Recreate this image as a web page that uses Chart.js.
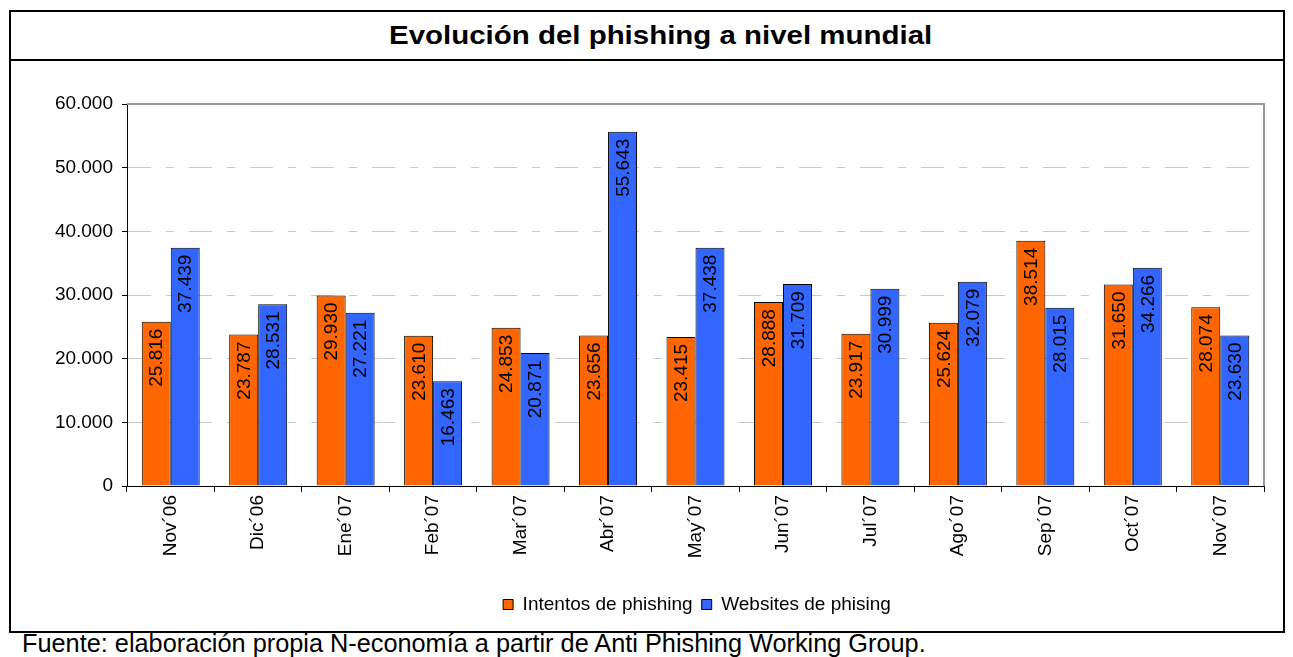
<!DOCTYPE html>
<html>
<head>
<meta charset="utf-8">
<script src="https://cdn.jsdelivr.net/npm/chart.js@4"></script>
<style>
  body { margin: 0; background: #fff; font-family: "Liberation Sans", Arial, sans-serif; }
  #frame { position: absolute; left: 9px; top: 10px; width: 1272px; height: 619px; border: 2px solid #000; }
  #titleBar { position: absolute; left: 9px; top: 10px; width: 1276px; height: 49px; border-bottom: 2px solid #000; }
  #title { position: absolute; left: 389px; top: 23px; font-weight: bold; font-size: 25px; line-height: 25px;
           white-space: nowrap; transform-origin: left top; transform: scaleX(1.178); }
  #footer { position: absolute; left: 22px; top: 631px; font-size: 25.3px; line-height: 25px; white-space: nowrap; }
  #wrap { position: absolute; left: 0; top: 0; width: 1293px; height: 657px; }
</style>
</head>
<body>
<div id="frame"></div>
<div id="titleBar"></div>
<div id="title">Evolución del phishing a nivel mundial</div>
<div id="footer">Fuente: elaboración propia N-economía a partir de Anti Phishing Working Group.</div>
<div id="wrap"><canvas id="myChart"></canvas></div>
<script>
// Data
const months = ["Nov´06", "Dic´06", "Ene´07", "Feb´07", "Mar´07", "Abr´07", "May´07",
  "Jun´07", "Jul´07", "Ago´07", "Sep´07", "Oct´07", "Nov´07"];
const intentos = [25816, 23787, 29930, 23610, 24853, 23656, 23415, 28888, 23917, 25624, 38514, 31650, 28074];
const websites = [37439, 28531, 27221, 16463, 20871, 55643, 37438, 31709, 30999, 32079, 28015, 34266, 23630];
const yTicks = [0, 10000, 20000, 30000, 40000, 50000, 60000];

const FONT = "'Liberation Sans', Arial, sans-serif";

// 37439 -> "37.439"
function fmt(v) {
  return String(v).replace(/\B(?=(\d{3})+(?!\d))/g, ".");
}

// gray frame on top and right of the plot area
const plotFrame = {
  id: "plotFrame",
  beforeDatasetsDraw(chart) {
    const a = chart.chartArea;
    const c = chart.ctx;
    c.save();
    c.strokeStyle = "#999";
    c.lineWidth = 2;
    c.beginPath();
    c.moveTo(a.left, a.top);
    c.lineTo(a.right, a.top);
    c.lineTo(a.right, a.bottom);
    c.stroke();
    c.restore();
  }
};

// legend sits a bit right of centre in the original
const legendShift = {
  id: "legendShift",
  afterLayout(chart) {
    chart.legend.left += 60;
    chart.legend.right += 60;
  }
};

// vertical value labels inside the bars
const barLabels = {
  id: "barLabels",
  afterDatasetsDraw(chart) {
    const c = chart.ctx;
    c.save();
    c.font = "19px " + FONT;
    c.fillStyle = "#000";
    c.textAlign = "right";
    c.textBaseline = "middle";
    chart.data.datasets.forEach((ds, i) => {
      chart.getDatasetMeta(i).data.forEach((bar, j) => {
        c.save();
        c.translate(bar.x, bar.y + 7);
        c.rotate(-Math.PI / 2);
        c.fillText(fmt(ds.data[j]), 0, 1);
        c.restore();
      });
    });
    c.restore();
  }
};

const ctx = document.getElementById("myChart").getContext("2d");

new Chart(ctx, {
  type: "bar",
  data: {
    labels: months,
    datasets: [
      {
        label: "Intentos de phishing",
        data: intentos,
        backgroundColor: "#FF6600",
        borderColor: "#000",
        borderWidth: 1,
        categoryPercentage: 0.663,
        barPercentage: 1
      },
      {
        label: "Websites de phising",
        data: websites,
        backgroundColor: "#3366FF",
        borderColor: "#000",
        borderWidth: 1,
        categoryPercentage: 0.663,
        barPercentage: 1
      }
    ]
  },
  options: {
    responsive: true,
    maintainAspectRatio: false,
    animation: false,
    layout: { padding: { top: 104, left: 10, right: 29, bottom: 33 } },
    plugins: {
      legend: {
        position: "bottom",
        labels: {
          font: { family: FONT, size: 19 },
          color: "#000",
          boxWidth: 10,
          boxHeight: 10,
          padding: 9,
          generateLabels(chart) {
            return chart.data.datasets.map((ds, i) => ({
              text: ds.label,
              fillStyle: ds.backgroundColor,
              strokeStyle: "#000",
              lineWidth: 1,
              datasetIndex: i
            }));
          }
        }
      },
      title: { display: false },
      tooltip: { enabled: false }
    },
    scales: {
      x: {
        grid: {
          offset: true,
          drawOnChartArea: false,
          color: "#000",
          tickLength: 6
        },
        border: { color: "#000", width: 1 },
        ticks: {
          color: "#000",
          font: { family: FONT, size: 19 },
          minRotation: 90,
          maxRotation: 90,
          padding: 3
        },
        afterFit(scale) { scale.height = 100; }
      },
      y: {
        min: 0,
        max: 60000,
        afterBuildTicks(scale) { scale.ticks = yTicks.map(v => ({ value: v })); },
        grid: {
          color: "#c8c8c8",
          lineWidth: 1,
          tickColor: "#000",
          tickLength: 5,
          tickBorderDash: []
        },
        border: { color: "#000", width: 1, dash: [23, 15, 8, 15] },
        ticks: {
          color: "#000",
          font: { family: FONT, size: 19 },
          padding: 9,
          callback: v => fmt(v)
        },
        afterFit(scale) { scale.width = 117; }
      }
    }
  },
  plugins: [plotFrame, legendShift, barLabels]
});
</script>
</body>
</html>
